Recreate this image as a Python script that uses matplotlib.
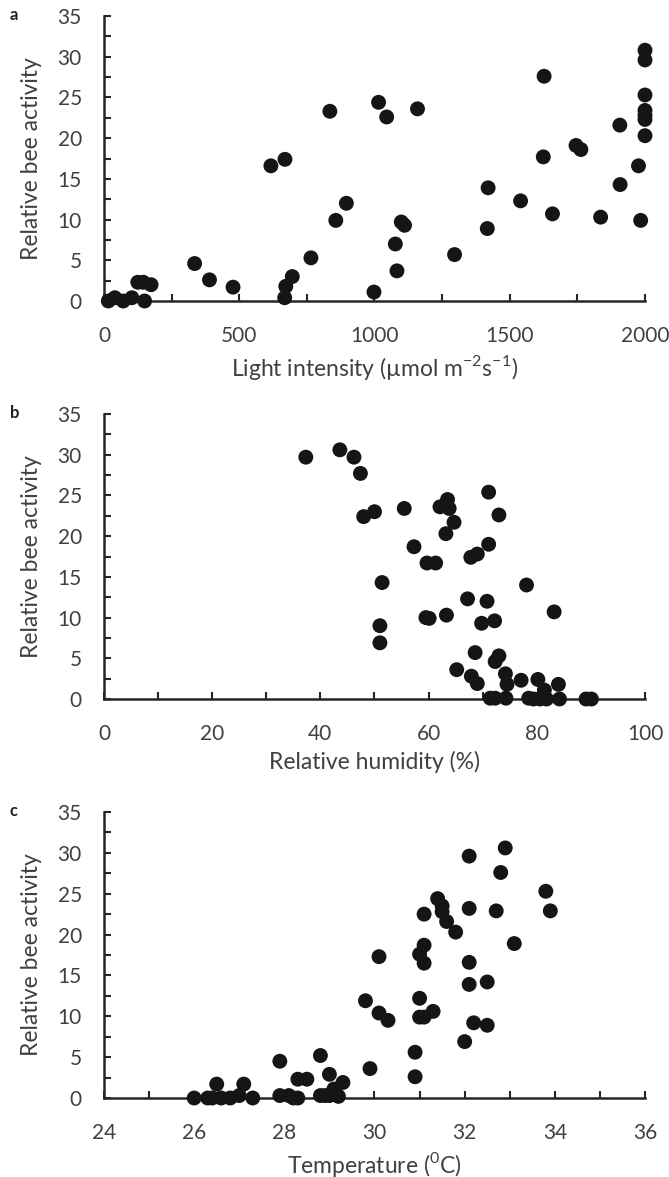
import matplotlib
matplotlib.use("Agg")
import matplotlib.pyplot as plt
from matplotlib.ticker import MultipleLocator

plt.rcParams['font.family'] = ['Lato', 'DejaVu Sans']
plt.rcParams['mathtext.fontset'] = 'custom'
plt.rcParams['mathtext.rm'] = 'Lato'

# Panel a: light intensity vs relative bee activity
light_x = [16, 40, 71, 103, 150, 125, 145, 174, 335, 390, 477, 617, 669, 668, 672, 696,
           765, 835, 857, 896, 998, 1015, 1045, 1077, 1083, 1099, 1111, 1159, 1296, 1417,
           1420, 1540, 1627, 1624, 1658, 1745, 1763, 1836, 1907, 1908, 1976, 1984,
           2000, 2000, 2000, 2000, 2000, 2000, 2000]
light_y = [0, 0.4, 0, 0.4, 0, 2.3, 2.3, 2.0, 4.6, 2.6, 1.7, 16.6, 17.4, 0.4, 1.8, 3.0,
           5.3, 23.3, 9.9, 12.0, 1.1, 24.4, 22.6, 7.0, 3.7, 9.7, 9.3, 23.6, 5.7, 8.9,
           13.9, 12.3, 27.6, 17.7, 10.7, 19.1, 18.6, 10.3, 21.6, 14.3, 16.6, 9.9,
           30.8, 29.6, 25.3, 23.4, 22.8, 22.3, 20.3]

# Panel b: relative humidity vs relative bee activity
hum_x = [37.3, 43.6, 46.2, 47.4, 48.0, 50.0, 51.4, 51.0, 51.0, 55.5, 57.3, 59.7, 61.3,
         59.5, 60.1, 62.1, 63.5, 63.8, 63.2, 64.7, 63.3, 65.2, 67.2, 67.8, 69.0, 68.6,
         67.9, 69.0, 69.8, 71.1, 71.1, 70.8, 72.2, 73.0, 73.0, 72.3, 74.2, 74.5,
         71.4, 72.3, 74.3, 77.1, 78.1, 80.2, 78.5, 79.4, 80.6, 81.8, 81.4, 84.0, 84.2,
         83.2, 89.1, 90.1]
hum_y = [29.7, 30.6, 29.7, 27.7, 22.4, 23.0, 14.3, 9.0, 6.9, 23.4, 18.7, 16.7, 16.7,
         10.0, 9.9, 23.6, 24.5, 23.4, 20.3, 21.7, 10.3, 3.6, 12.3, 17.4, 17.8, 5.7,
         2.8, 1.9, 9.3, 25.4, 19.0, 12.0, 9.6, 22.6, 5.3, 4.6, 3.1, 1.8,
         0.1, 0.1, 0.1, 2.3, 14.0, 2.4, 0.1, 0, 0, 0, 1.1, 1.8, 0,
         10.7, 0, 0]

# Panel c: temperature vs relative bee activity
temp_x = [26.0, 26.3, 26.4, 26.5, 26.6, 26.8, 27.0, 27.1, 27.3, 27.9, 27.9, 28.1, 28.2,
          28.3, 28.3, 28.5, 28.8, 28.8, 28.9, 29.0, 29.0, 29.1, 29.2, 29.3, 29.8, 29.9,
          30.1, 30.1, 30.3, 30.9, 30.9, 31.0, 31.0, 31.1, 31.3, 31.0, 31.1, 31.1, 31.1,
          31.4, 31.5, 31.5, 31.6, 31.8, 32.1, 32.1, 32.1, 32.1, 32.0, 32.2, 32.5, 32.5,
          32.7, 32.8, 32.9, 33.1, 33.8, 33.9]
temp_y = [0, 0, 0, 1.7, 0, 0, 0.3, 1.7, 0, 4.5, 0.3, 0.3, 0,
          0, 2.3, 2.3, 5.2, 0.3, 0.3, 0.3, 2.9, 1.1, 0.2, 1.9, 11.9, 3.6,
          17.3, 10.4, 9.5, 2.6, 5.6, 12.2, 9.9, 9.9, 10.6, 17.6, 18.7, 16.5, 22.5,
          24.4, 23.5, 22.8, 21.6, 20.3, 29.6, 23.2, 16.6, 13.9, 6.9, 9.2, 14.2, 8.9,
          22.9, 27.6, 30.6, 18.9, 25.3, 22.9]

fig = plt.figure(figsize=(6.69, 11.77), dpi=100)
W, H = 669, 1177

text_col = '#404040'
axis_col = '#262626'
dot_col = '#151515'

panels = [
    dict(x=light_x, y=light_y, top=16, bottom=301, xlim=(0, 2000), xmaj=500, xmin=250,
         xlabel=r'Light intensity (µmol m$^{\mathregular{-2}}$s$^{\mathregular{-1}}$)', letter='a'),
    dict(x=hum_x, y=hum_y, top=414, bottom=699, xlim=(0, 100), xmaj=20, xmin=10,
         xlabel='Relative humidity (%)', letter='b'),
    dict(x=temp_x, y=temp_y, top=812, bottom=1098, xlim=(24, 36), xmaj=2, xmin=1,
         xlabel=r'Temperature ($^{\mathregular{0}}$C)', letter='c'),
]

left_px, right_px = 104, 645
for p in panels:
    ax = fig.add_axes([left_px / W, 1 - p['bottom'] / H,
                       (right_px - left_px) / W, (p['bottom'] - p['top']) / H])
    ax.scatter(p['x'], p['y'], s=115, color=dot_col, edgecolors='none', zorder=3,
               clip_on=False)
    ax.set_xlim(*p['xlim'])
    ax.set_ylim(0, 35)
    for s in ['top', 'right']:
        ax.spines[s].set_visible(False)
    for s in ['left', 'bottom']:
        ax.spines[s].set_color(axis_col)
        ax.spines[s].set_linewidth(1.8)
    ax.xaxis.set_major_locator(MultipleLocator(p['xmaj']))
    ax.xaxis.set_minor_locator(MultipleLocator(p['xmin']))
    ax.yaxis.set_major_locator(MultipleLocator(5))
    ax.yaxis.set_minor_locator(MultipleLocator(2.5))
    ax.tick_params(axis='both', which='both', direction='in', color=axis_col,
                   width=1.5, labelcolor=text_col, labelsize=15)
    ax.tick_params(axis='both', which='major', length=5)
    ax.tick_params(axis='both', which='minor', length=5)
    ax.tick_params(axis='x', which='major', pad=18)
    ax.tick_params(axis='y', which='major', pad=16)
    ax.set_ylabel('Relative bee activity', fontsize=16.5, color=text_col, labelpad=11)
    ax.set_xlabel(p['xlabel'], fontsize=16.5, color=text_col, labelpad=5)
    fig.text(10 / W, 1 - (p['top'] - 1) / H, p['letter'], fontsize=12, fontweight='bold',
             color='#202020', ha='left', va='center')

fig.savefig('out.png', dpi=100, facecolor='white')
